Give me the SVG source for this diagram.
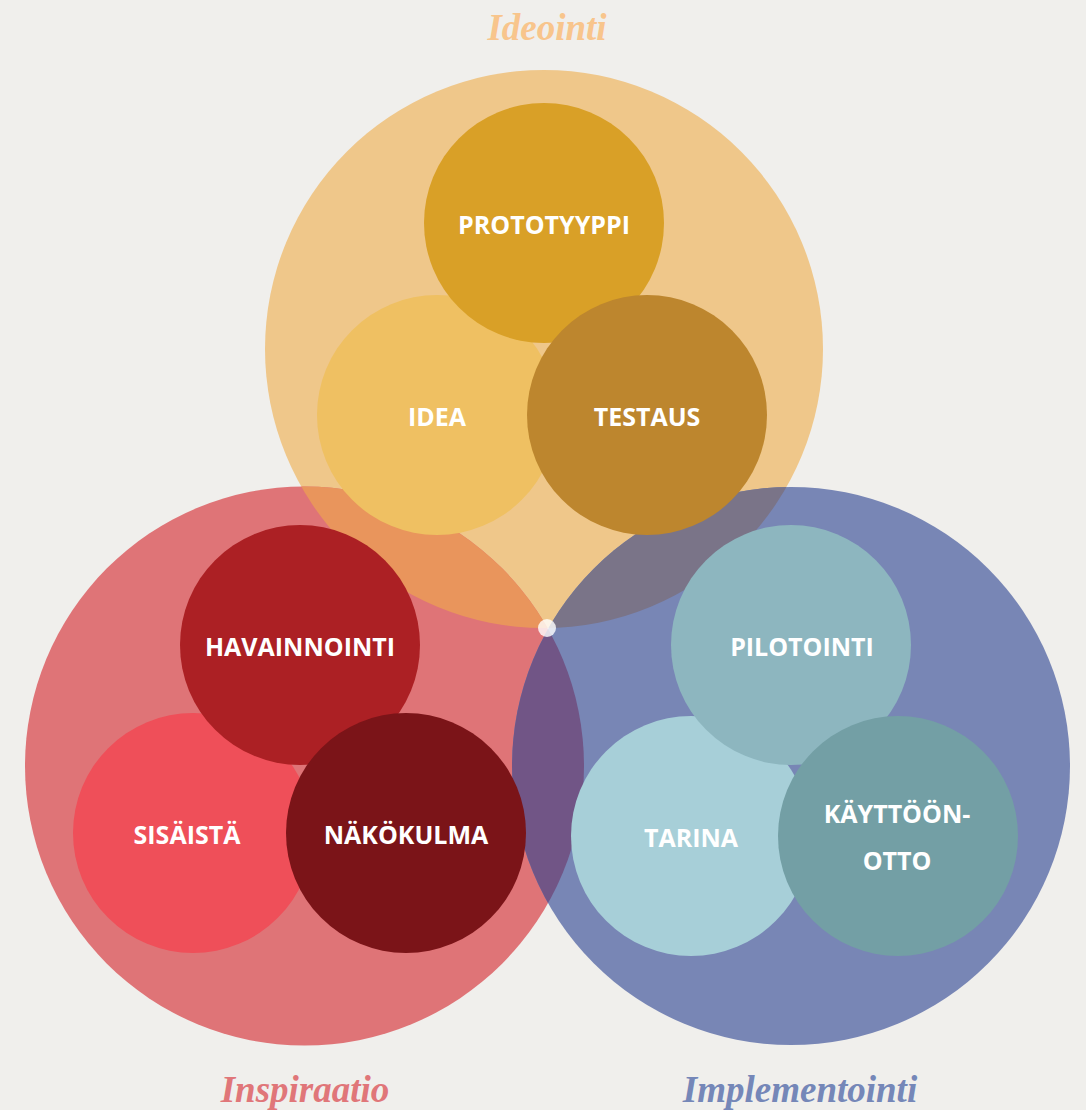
<svg xmlns="http://www.w3.org/2000/svg" width="1086" height="1110" viewBox="0 0 1086 1110">
<style>
.lbl{font-family:"Open Sans","Liberation Sans",sans-serif;font-weight:bold;font-size:25px;fill:#ffffff;text-anchor:middle}
.ttl{font-family:"Liberation Serif",serif;font-weight:bold;font-style:italic;font-size:37px;text-anchor:middle}
</style>
<defs>
<clipPath id="cIde"><circle cx="544" cy="349" r="279"/></clipPath>
<clipPath id="cIns"><circle cx="304.5" cy="766" r="279.5"/></clipPath>
</defs>
<rect width="1086" height="1110" fill="#f0efec"/>
<g id="ideointi">
<circle cx="544" cy="349" r="279" fill="#efc78a"/>
<text class="ttl" x="547" y="40" fill="#f8c58c">Ideointi</text>
</g>
<g id="inspiraatio">
<circle cx="304.5" cy="766" r="279.5" fill="#df7477"/>
<text class="ttl" x="305" y="1102" fill="#e07679">Inspiraatio</text>
</g>
<g id="implementointi">
<circle cx="791" cy="766" r="279" fill="#7886b5"/>
<text class="ttl" x="800" y="1102" fill="#7587b8">Implementointi</text>
</g>
<g id="overlaps">
<circle cx="304.5" cy="766" r="279.5" fill="#e9955c" clip-path="url(#cIde)"/>
<circle cx="791" cy="766" r="279" fill="#7a7488" clip-path="url(#cIde)"/>
<circle cx="791" cy="766" r="279" fill="#715586" clip-path="url(#cIns)"/>
</g>
<g id="idea"><circle cx="437" cy="415" r="120" fill="#efc062"/><text class="lbl" x="437" y="426">IDEA</text></g>
<g id="prototyyppi"><circle cx="544" cy="223" r="120" fill="#d9a027"/><text class="lbl" x="544" y="234">PROTOTYYPPI</text></g>
<g id="testaus"><circle cx="647" cy="415" r="120" fill="#bd862e"/><text class="lbl" x="647" y="426">TESTAUS</text></g>
<g id="sisaista"><circle cx="193" cy="833" r="120" fill="#ef4f59"/><text class="lbl" x="187" y="844">SISÄISTÄ</text></g>
<g id="havainnointi"><circle cx="300" cy="645" r="120" fill="#ac2024"/><text class="lbl" x="300" y="656">HAVAINNOINTI</text></g>
<g id="nakokulma"><circle cx="406" cy="833" r="120" fill="#7b1418"/><text class="lbl" x="406" y="844">NÄKÖKULMA</text></g>
<g id="tarina"><circle cx="691" cy="836" r="120" fill="#a7cfd8"/><text class="lbl" x="691" y="847">TARINA</text></g>
<g id="pilotointi"><circle cx="791" cy="645" r="120" fill="#8db6bf"/><text class="lbl" x="802" y="656">PILOTOINTI</text></g>
<g id="kayttoonotto"><circle cx="898" cy="836" r="120" fill="#739fa5"/><text class="lbl" x="897" y="823">KÄYTTÖÖN-</text><text class="lbl" x="897" y="870">OTTO</text></g>
<g id="connectors"></g>
<circle id="center-dot" cx="547" cy="628" r="9" fill="#ffffff" fill-opacity="0.8"/>
</svg>
